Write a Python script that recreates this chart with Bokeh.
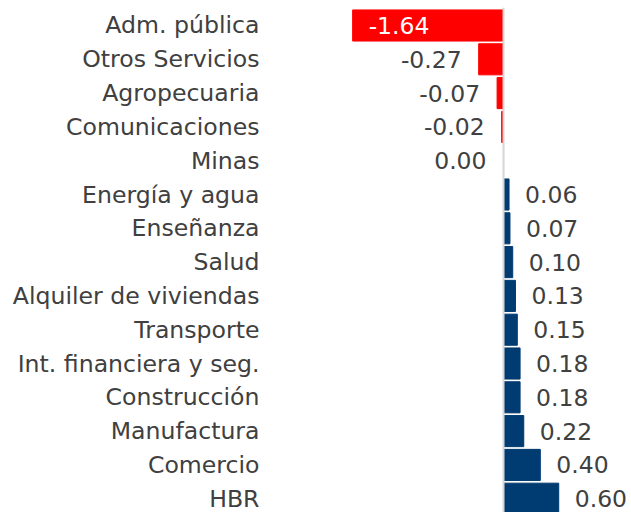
from bokeh.plotting import figure
from bokeh.models import ColumnDataSource, Range1d, FixedTicker, Span
from bokeh.embed import file_html
from bokeh.resources import INLINE
from bokeh.core.properties import value

categories = ["Adm. pública", "Otros Servicios", "Agropecuaria", "Comunicaciones", "Minas",
              "Energía y agua", "Enseñanza", "Salud", "Alquiler de viviendas", "Transporte",
              "Int. financiera y seg.", "Construcción", "Manufactura", "Comercio", "HBR"]
values = [-1.64, -0.27, -0.07, -0.02, 0.00, 0.06, 0.07, 0.10, 0.13, 0.15, 0.18, 0.18, 0.22, 0.40, 0.60]

RED = "#FF0000"
BLUE = "#003B71"
TXT = "#404040"
FONT = "DejaVu Sans"
FS_CAT = "23.6px"
FS_VAL = "23.5px"

pos = list(range(len(categories)))
colors = [RED if v < 0 else BLUE for v in values]
src = ColumnDataSource(dict(y=pos, v=values, c=colors))

p = figure(width=631, height=512, output_backend="svg", toolbar_location=None,
           x_range=Range1d(-2.598, 1.391), y_range=Range1d(14.408, -0.5325),
           min_border_left=264, min_border_right=0, min_border_top=7, min_border_bottom=0)
p.hbar(y="y", left=0, right="v", height=0.92, color="c", source=src)

p.add_layout(Span(location=0, dimension="height", line_color="#d6d6d6", line_width=2))

labels = [f"{v:.2f}" for v in values]
neg = [i for i, v in enumerate(values) if v <= 0 and v > -1]
posi = [i for i, v in enumerate(values) if v > 0]
big = [i for i, v in enumerate(values) if v <= -1]

def sub(idx):
    return ColumnDataSource(dict(y=[pos[i] for i in idx], v=[values[i] for i in idx],
                                 t=[labels[i] for i in idx]))

p.text(x="v", y="y", text="t", source=sub(neg), text_align="right", text_baseline="middle",
       x_offset=-17, text_color=TXT, text_font=value(FONT), text_font_size=FS_VAL)
p.text(x="v", y="y", text="t", source=sub(posi), text_align="left", text_baseline="middle",
       x_offset=16, text_color=TXT, text_font=value(FONT), text_font_size=FS_VAL)
p.text(x="v", y="y", text="t", source=sub(big), text_align="left", text_baseline="middle",
       x_offset=16, text_color="white", text_font=value(FONT), text_font_size=FS_VAL)

p.xaxis.visible = False
p.yaxis.ticker = FixedTicker(ticks=pos)
p.yaxis.major_label_overrides = {i: c for i, c in enumerate(categories)}
p.yaxis.axis_line_color = None
p.yaxis.major_tick_line_color = None
p.yaxis.minor_tick_line_color = None
p.yaxis.major_tick_in = 0
p.yaxis.major_tick_out = 0
p.yaxis.major_label_standoff = 5
p.yaxis.major_label_text_font = FONT
p.yaxis.major_label_text_font_size = FS_CAT
p.yaxis.major_label_text_color = TXT
p.xgrid.visible = False
p.ygrid.visible = False
p.outline_line_color = None

open("out.html", "w").write(file_html(p, INLINE))
